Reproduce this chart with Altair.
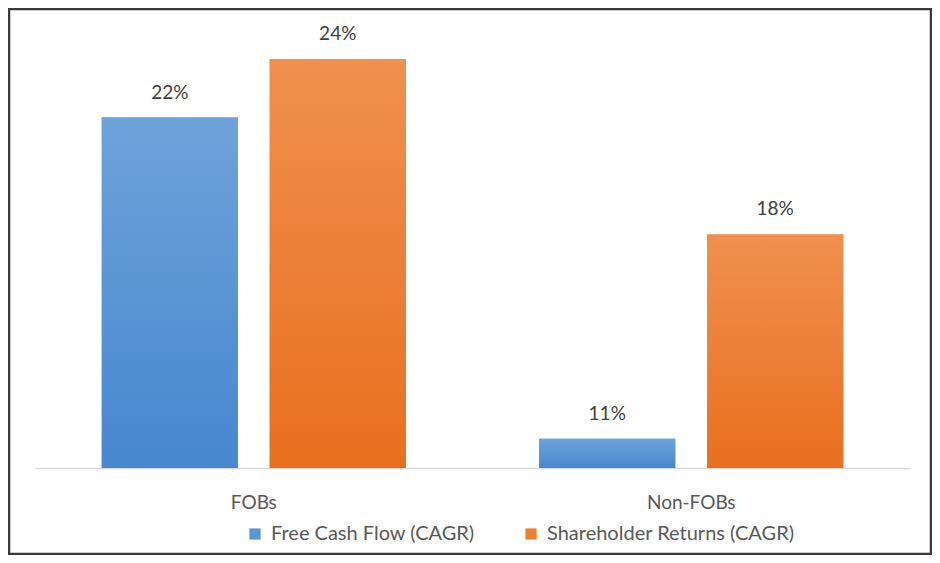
import altair as alt
import pandas as pd

categories = ["FOBs", "FOBs", "Non-FOBs", "Non-FOBs"]
series = ["Free Cash Flow (CAGR)", "Shareholder Returns (CAGR)",
          "Free Cash Flow (CAGR)", "Shareholder Returns (CAGR)"]
values = [22, 24, 11, 18]
labels = ["22%", "24%", "11%", "18%"]

series_order = ["Free Cash Flow (CAGR)", "Shareholder Returns (CAGR)"]
solid_colors = ["#5B95D5", "#ED7D31"]

df = pd.DataFrame({"cat": categories, "series": series, "value": values, "label": labels})

FONT = "Lato"
W, H = 875, 438
PAD = {"left": 27, "top": 22, "right": 22, "bottom": 87}

x = alt.X("cat:N", sort=["FOBs", "Non-FOBs"],
          scale=alt.Scale(paddingInner=0.305, paddingOuter=0.1526),
          axis=alt.Axis(title=None, labelAngle=0, labelFontSize=19, labelFont=FONT,
                        labelColor="#595959", domainColor="#D9D9D9", domainWidth=1.5,
                        ticks=False, labelPadding=25))
xoff = alt.XOffset("series:N", sort=series_order, scale=alt.Scale(paddingInner=0.19, paddingOuter=0))
y = alt.Y("value:Q", scale=alt.Scale(domain=[10, 25], zero=False, nice=False, clamp=True),
          axis=None)

base = alt.Chart(df)

legend_bars = base.mark_bar().encode(
    x=x, xOffset=xoff, y=y, y2=alt.datum(10),
    color=alt.Color("series:N", sort=series_order,
                    scale=alt.Scale(domain=series_order, range=solid_colors),
                    legend=alt.Legend(title=None, orient="none", direction="horizontal",
                                      legendX=210, legendY=494, symbolType="square",
                                      symbolSize=125, symbolStrokeWidth=0,
                                      labelFont=FONT, labelFontSize=20, labelColor="#595959",
                                      columnPadding=46, symbolOffset=0, labelOffset=6,
                                      labelLimit=400)),
)

def grad(top, bottom):
    return alt.LinearGradient(gradient="linear", x1=0, x2=0, y1=0, y2=1,
                              stops=[alt.GradientStop(offset=0, color=top),
                                     alt.GradientStop(offset=1, color=bottom)])

blue_bars = base.transform_filter(alt.datum.series == series_order[0]).mark_bar(
    color=grad("#6DA3DA", "#4787CF")).encode(x=x, xOffset=xoff, y=y, y2=alt.datum(10))
orange_bars = base.transform_filter(alt.datum.series == series_order[1]).mark_bar(
    color=grad("#F0904F", "#E96F1E")).encode(x=x, xOffset=xoff, y=y, y2=alt.datum(10))

text = base.mark_text(dy=-25, baseline="middle", font=FONT, fontSize=19, color="#404040").encode(
    x=x, xOffset=xoff, y=y, text="label:N")

frame = alt.Chart(pd.DataFrame({"a": [0]})).mark_rect(
    fill=None, stroke="#3A3A3A", strokeWidth=2.5).encode(
    x=alt.value(-PAD["left"] + 1), x2=alt.value(W + PAD["right"] - 1),
    y=alt.value(-PAD["top"] + 1), y2=alt.value(H + PAD["bottom"] - 1))

chart = alt.layer(legend_bars, blue_bars, orange_bars, text, frame).properties(
    width=W, height=H,
    autosize=alt.AutoSizeParams(type="none"),
    padding=PAD,
    background="white",
).configure_view(strokeWidth=0, stroke="transparent")

chart.save("out.html", embed_options={"renderer": "svg", "actions": False})
